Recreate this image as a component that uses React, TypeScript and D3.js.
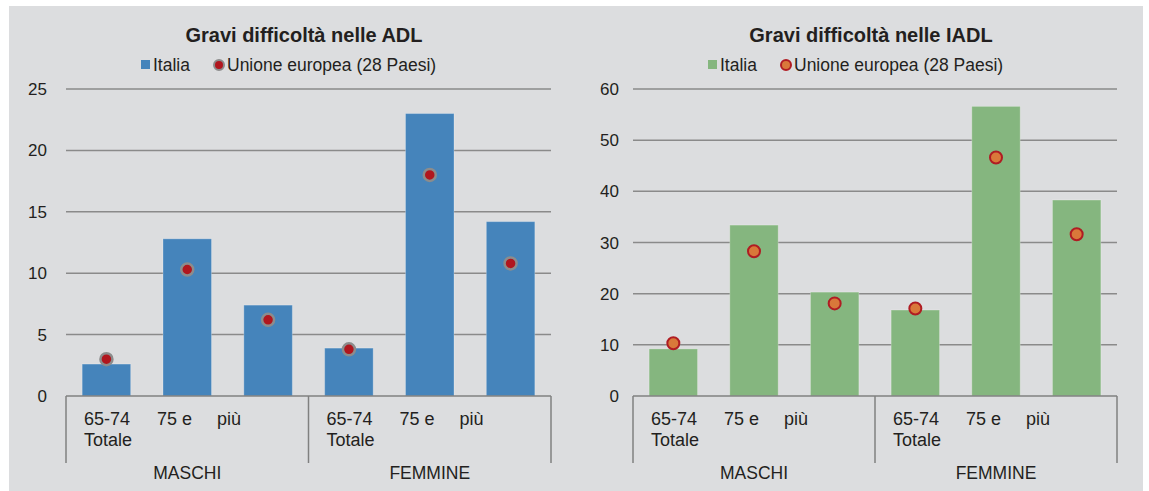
import React from "react";
import * as d3 from "d3";

const groups = ["MASCHI", "FEMMINE"];
const ageLabels = ["65-74", "75 e più", "Totale"];
const categories = ["M 65-74", "M 75+", "M Tot", "F 65-74", "F 75+", "F Tot"];

const adlItalia = [2.6, 12.8, 7.4, 3.9, 23.0, 14.2];
const adlUE = [3.0, 10.3, 6.2, 3.8, 18.0, 10.8];
const iadlItalia = [9.2, 33.4, 20.3, 16.8, 56.6, 38.3];
const iadlUE = [10.3, 28.3, 18.1, 17.1, 46.6, 31.6];

const adlTicks = [0, 5, 10, 15, 20, 25];
const iadlTicks = [0, 10, 20, 30, 40, 50, 60];

const legendItalia = "Italia";
const legendUE = "Unione europea (28 Paesi)";

const FONT = "'Liberation Sans', Arial, sans-serif";

type PanelProps = {
  title: string;
  italia: number[];
  ue: number[];
  ticks: number[];
  x0: number;
  x1: number;
  labelRight: number;
  barColor: string;
  dotFill: string;
  dotStroke: string;
  dotStrokeW: number;
  legendX: number;
  titleX: number;
};

function Panel(p: PanelProps) {
  const yTop = 89;
  const yBottom = 396;
  const y = d3.scaleLinear().domain([0, p.ticks[p.ticks.length - 1]]).range([yBottom, yTop]);
  const x = d3.scaleBand<string>().domain(categories).range([p.x0, p.x1]).paddingInner(0.4).paddingOuter(0.2);
  const step = x.step();
  const groupW = step * 3;
  return (
    <g>
      <text x={p.titleX} y={42} textAnchor="middle" fontFamily={FONT} fontWeight="bold" fontSize={20} fill="#231f20">
        {p.title}
      </text>
      {/* legend */}
      <rect x={p.legendX} y={60} width={9} height={9} fill={p.barColor} />
      <text x={p.legendX + 12} y={71} fontFamily={FONT} fontSize={17.5} fill="#231f20">{legendItalia}</text>
      <circle cx={p.legendX + 78} cy={65} r={5} fill={p.dotFill} stroke={p.dotStroke} strokeWidth={2} />
      <text x={p.legendX + 86} y={71} fontFamily={FONT} fontSize={17.5} fill="#231f20">{legendUE}</text>
      {/* grid */}
      {p.ticks.map((t) => (
        <g key={t}>
          {t > 0 && (
            <line x1={p.x0} x2={p.x1} y1={y(t)} y2={y(t)} stroke="#8a8a8a" strokeWidth={1.5} />
          )}
          <text x={p.labelRight} y={y(t) + 6} textAnchor="end" fontFamily={FONT} fontSize={17} fill="#231f20">
            {t}
          </text>
        </g>
      ))}
      {/* bars */}
      {p.italia.map((v, i) => (
        <rect key={i} x={x(categories[i])} y={y(v)} width={x.bandwidth()} height={y(0) - y(v)} fill={p.barColor} stroke="rgba(255,255,255,0.25)" strokeWidth={1} />
      ))}
      {/* dots */}
      {p.ue.map((v, i) => (
        <circle key={i} cx={(x(categories[i]) as number) + x.bandwidth() / 2} cy={y(v)} r={6} fill={p.dotFill} stroke={p.dotStroke} strokeWidth={p.dotStrokeW} />
      ))}
      {/* axis */}
      <line x1={p.x0} x2={p.x1} y1={yBottom} y2={yBottom} stroke="#808080" strokeWidth={1.5} />
      {[0, 1, 2].map((k) => (
        <line key={k} x1={p.x0 + k * groupW} x2={p.x0 + k * groupW} y1={yBottom} y2={463} stroke="#808080" strokeWidth={1.5} />
      ))}
      {groups.map((g, gi) => {
        const gx = p.x0 + gi * groupW;
        const parts = ageLabels[1].split(" più");
        return (
          <g key={g} fontFamily={FONT} fill="#231f20">
            <text x={gx + 18} y={425} fontSize={18}>{ageLabels[0]}</text>
            <text x={gx + 91} y={425} fontSize={18}>{parts[0]}</text>
            <text x={gx + 151} y={425} fontSize={18}>più</text>
            <text x={gx + 18} y={446} fontSize={18}>{ageLabels[2]}</text>
            <text x={gx + groupW / 2} y={479} textAnchor="middle" fontSize={17.5}>{g}</text>
          </g>
        );
      })}
    </g>
  );
}

export default function App() {
  return (
    <svg width={1149} height={491} style={{ position: "absolute", left: 0, top: 0, background: "#fff" }}>
      <rect x={9} y={6} width={1134} height={485} fill="#dcdddf" />
      <Panel
        title="Gravi difficoltà nelle ADL"
        italia={adlItalia}
        ue={adlUE}
        ticks={adlTicks}
        x0={66}
        x1={551}
        labelRight={47}
        barColor="#4584bb"
        dotFill="#b0161e"
        dotStroke="#8c8c8c"
        dotStrokeW={2.5}
        legendX={141}
        titleX={304}
      />
      <Panel
        title="Gravi difficoltà nelle IADL"
        italia={iadlItalia}
        ue={iadlUE}
        ticks={iadlTicks}
        x0={633}
        x1={1117}
        labelRight={619}
        barColor="#85b67f"
        dotFill="#d9783a"
        dotStroke="#b01c23"
        dotStrokeW={2}
        legendX={708}
        titleX={871}
      />
    </svg>
  );
}
